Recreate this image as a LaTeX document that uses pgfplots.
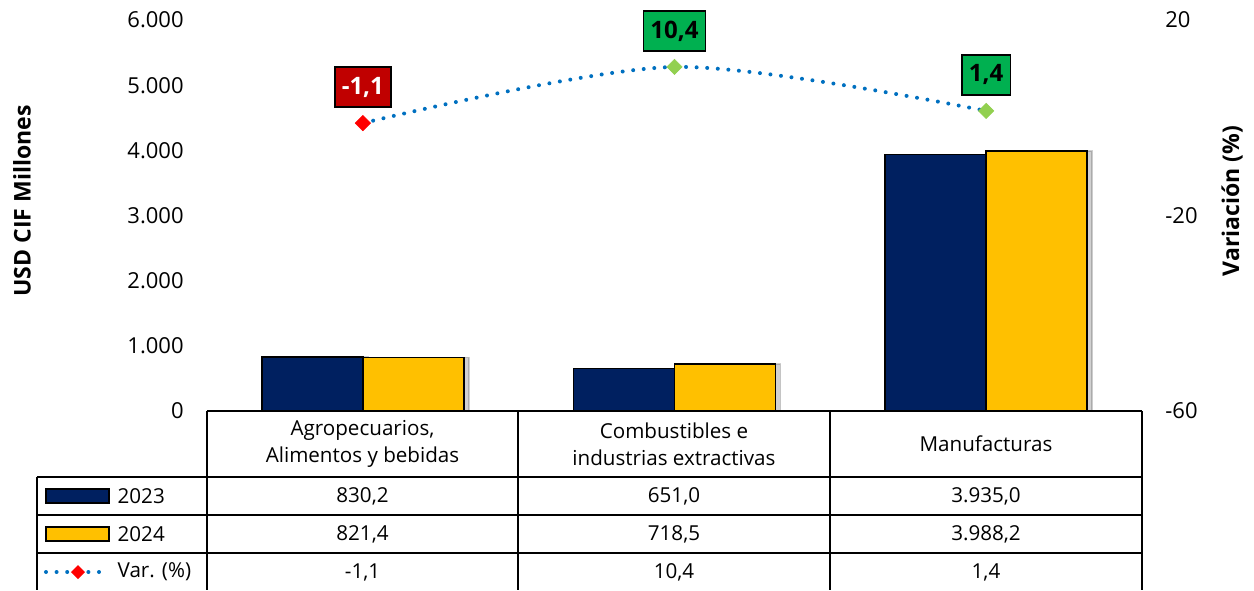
\documentclass[border=0pt]{standalone}
\usepackage{fontspec}
\setmainfont{Open Sans}
\usepackage{pgfplots}
\pgfplotsset{compat=1.18}
\usetikzlibrary{shadows}
\definecolor{navy}{HTML}{002060}
\definecolor{gold}{HTML}{FFC000}
\definecolor{lineblue}{HTML}{0070C0}
\definecolor{negred}{HTML}{C00000}
\definecolor{posgreen}{HTML}{00B050}
\definecolor{mkred}{HTML}{FF0000}
\definecolor{mkgreen}{HTML}{92D050}
\newcommand{\tfont}{\fontsize{11}{13.5}\selectfont}
\newcommand{\cfont}{\fontsize{10.3}{13.5}\selectfont}
\begin{document}
\begin{tikzpicture}
\pgfplotsset{
  base/.style={
    scale only axis, width=467.5pt, height=195.5pt,
    xmin=-0.5, xmax=2.5, clip=false,
    axis line style={draw=none}, major tick length=0pt,
    /pgf/number format/assume math mode=true,
    /pgf/number format/1000 sep={.},
    ticklabel style={font=\tfont},
    scaled y ticks=false,
    label style={font=\fontsize{11.5}{13}\selectfont\bfseries},
  },
  labelbox/.style={draw=none, mark=none, nodes near coords,
    point meta=explicit symbolic,
    nodes near coords style={anchor=center, yshift=18pt, draw=black,
      line width=0.75pt, inner xsep=3.5pt, minimum height=20pt,
      font=\fontsize{12}{14}\selectfont\bfseries, #1}},
  barshadow/.style={drop shadow={shadow xshift=2.5pt, shadow yshift=0pt,
      opacity=0.18, fill=black}},
}
% bars, left axis
\begin{axis}[base, name=ax,
  ymin=0, ymax=6000, ytick={0,1000,...,6000},
  xtick=\empty,
  ybar=0pt, bar width=50.5pt,
  yticklabel style={anchor=east, inner sep=0pt, xshift=-11.5pt},
  ylabel={USD CIF Millones},
  ylabel style={at={(axis description cs:-0.1979,0.537)}, anchor=center},
]
\addplot[fill=navy, draw=black, line width=0.75pt, barshadow]
  coordinates {(0,830.2) (1,651.0) (2,3935.0)};
\addplot[fill=gold, draw=black, line width=0.75pt, barshadow]
  coordinates {(0,821.4) (1,718.5) (2,3988.2)};
\end{axis}
% variation, right axis
\begin{axis}[base,
  ymin=-60, ymax=20, ytick={-60,-20,20},
  hide x axis, axis y line*=right,
  yticklabel style={anchor=west, inner sep=0pt, xshift=11.5pt},
  ylabel={Variación (\%)},
  ylabel style={at={(axis description cs:1.0963,0.537)}, anchor=center, rotate=0},
]
\addplot[lineblue, line width=2pt, dash pattern=on 0pt off 5.3pt, line cap=round,
  smooth, scatter, scatter src=explicit symbolic,
  scatter/classes={n={mark=square*, mkred}, p={mark=square*, mkgreen}},
  mark options={solid, line width=0.3pt, mark size=2.7pt, rotate=45}]
  coordinates {(0,-1.1) [n] (1,10.4) [p] (2,1.4) [p]};
\addplot[labelbox={fill=negred, text=white}] coordinates {(0,-1.1) [-1,1]};
\addplot[labelbox={fill=posgreen, text=black}] coordinates {(1,10.4) [10,4] (2,1.4) [1,4]};
\end{axis}
% data table below the plot (1 unit = 1 px of the reference)
\begin{scope}[shift={(ax.south west)}, x=0.5pt, y=0.5pt, line width=1pt]
  \draw (0,0) -- (935,0);
  \foreach \xx in {0,311,623,935} \draw (\xx,0) -- (\xx,-179);
  \draw (-170,-66) -- (935,-66);
  \draw (-170,-104) -- (935,-104);
  \draw (-170,-142) -- (935,-142);
  \draw (-170,-66) -- (-170,-179);
  \begin{scope}[every node/.style={font=\cfont, align=center}]
    \node at (155.5,-33) {Agropecuarios,\\Alimentos y bebidas};
    \node at (467,-33) {Combustibles e\\industrias extractivas};
    \node at (779,-33) {Manufacturas};
    \node at (155.5,-85) {830,2};
    \node at (467,-85) {651,0};
    \node at (779,-85) {3.935,0};
    \node at (155.5,-123) {821,4};
    \node at (467,-123) {718,5};
    \node at (779,-123) {3.988,2};
    \node at (155.5,-161) {-1,1};
    \node at (467,-161) {10,4};
    \node at (779,-161) {1,4};
    \node[anchor=west] at (-97,-85) {2023};
    \node[anchor=west] at (-97,-123) {2024};
    \node[anchor=west] at (-97,-161) {Var. (\%)};
  \end{scope}
  \draw[fill=navy, line width=0.75pt] (-161,-78) rectangle (-98,-92);
  \draw[fill=gold, line width=0.75pt] (-161,-116) rectangle (-98,-130);
  \draw[lineblue, line width=2pt, dash pattern=on 0pt off 5.3pt, line cap=round]
    (-161,-161) -- (-98,-161);
  \fill[mkred] (-129,-154) -- (-122,-161) -- (-129,-168) -- (-136,-161) -- cycle;
  \pgfresetboundingbox
  \path[use as bounding box] (-207,-179) rectangle (1047,411);
\end{scope}
\end{tikzpicture}
\end{document}
